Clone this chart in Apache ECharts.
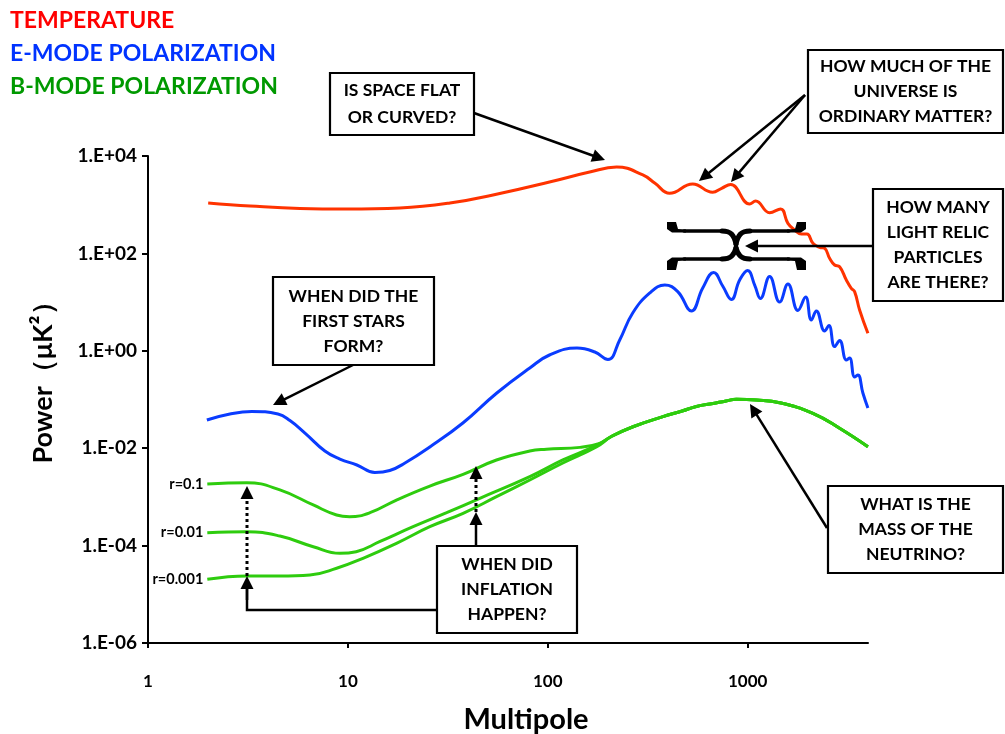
<!DOCTYPE html>
<html><head><meta charset="utf-8">
<script src="https://cdn.jsdelivr.net/npm/echarts@6/dist/echarts.min.js"></script>
<style>html,body{margin:0;padding:0;background:#fff}#c{width:1005px;height:734px}</style>
</head><body><div id="c"></div>
<script>
// ---- data (multipole ell, power in uK^2) ----
const TT_ELL = [2.0, 3.24, 5.75, 9.9, 18.2, 32.4, 57.5, 102, 162, 221, 299, 344, 407, 531, 668, 741, 822, 1023, 1096, 1288, 1462, 1590, 1718, 1856, 1980, 2121, 2291, 2427, 2570, 2723, 2884, 3116, 3300, 3428, 3631, 3996];
const TT_POW = [1084, 940, 836, 816, 855, 1084, 1698, 2924, 4690, 5943, 4074, 2750, 1714, 2661, 1798, 2173, 2600, 1033, 1191, 685, 816, 415, 302, 250, 250, 161, 133, 127, 79.4, 57.8, 53.3, 28.4, 19.2, 16.4, 6.9, 2.29];

const EE_ELL = [1.97, 2.57, 3.31, 4.47, 5.13, 6.10, 7.67, 9.12, 11.09, 13.65, 16.2, 19.3, 25.7, 37.6, 55.6, 81.3, 102, 140, 172, 200, 229, 266, 324, 385, 447, 523, 596, 676, 750, 829, 912, 1000, 1084, 1158, 1288, 1445, 1590, 1785, 1950, 2082, 2206, 2427, 2550, 2723, 2884, 3116, 3236, 3428, 3561, 3771, 3996];
const EE_POW = [0.0379, 0.0504, 0.0567, 0.0504, 0.0370, 0.0205, 0.00877, 0.0060, 0.00452, 0.00317, 0.00348, 0.00497, 0.0106, 0.0329, 0.136, 0.444, 0.820, 1.14, 0.944, 0.663, 1.67, 5.97, 15.4, 22.4, 16.4, 6.56, 19.5, 40.6, 21.4, 11.3, 28.4, 44.6, 22.4, 11.9, 33.6, 10.0, 23.5, 6.73, 12.7, 4.29, 6.56, 2.55, 3.31, 1.22, 1.63, 0.647, 0.711, 0.290, 0.318, 0.136, 0.0668];

// B-mode: low-ell part differs with r, lensing tail shared
const BB_R01_ELL = [1.98, 3.12, 4.57, 6.71, 8.78, 10.2, 12.9, 17.5, 25.7, 37.7, 55.4, 81.3, 98.5, 145, 180];
const BB_R01_POW = [0.00184, 0.00196, 0.00139, 0.000682, 0.000425, 0.000392, 0.000474, 0.000863, 0.00167, 0.00291, 0.00573, 0.00877, 0.00949, 0.0104, 0.0124];
const BB_R001_ELL = [1.98, 3.12, 4.57, 6.71, 9.12, 11.0, 14.4, 21.2, 31.2, 45.7, 81.3, 119, 175];
const BB_R001_POW = [0.000184, 0.000193, 0.000157, 0.0000949, 0.0000695, 0.000075, 0.00012, 0.000244, 0.000474, 0.000935, 0.0026, 0.00573, 0.0114];
const BB_R0001_ELL = [1.98, 3.12, 4.57, 6.46, 8.78, 11.9, 17.5, 25.7, 37.7, 55.4, 81.3, 119, 175];
const BB_R0001_POW = [0.0000203, 0.0000238, 0.0000238, 0.0000249, 0.0000342, 0.0000548, 0.000111, 0.000244, 0.00046, 0.00101, 0.00222, 0.00497, 0.0106];
const BB_TAIL_ELL = [210, 267, 377, 470, 554, 671, 780, 878, 1105, 1445, 2121, 2884, 3996];
const BB_TAIL_POW = [0.0178, 0.0276, 0.0444, 0.0580, 0.0720, 0.0830, 0.0935, 0.101, 0.0977, 0.0859, 0.0521, 0.0256, 0.0107];

const R_LABELS = ['r=0.1', 'r=0.01', 'r=0.001'];
const X_TICKS = [1, 10, 100, 1000];
const X_MAX = 4000;
const Y_MIN_EXP = -6, Y_MAX_EXP = 4, Y_STEP_EXP = 2;

// ---- build ----
const FONT = 'Lato, "Open Sans", sans-serif';
const toXY = (ell, pow) => ell.map((l, i) => [Math.log10(l), Math.log10(pow[i])]);
function withLabel(pts, text) {
  return pts.map((p, i) => i === 0 ? {value: p, label: {show: true, position: 'left', distance: 4, formatter: text,
      fontFamily: FONT, fontWeight: 'bold', fontSize: 14.5, color: '#000'}} : {value: p});
}
const chart = echarts.init(document.getElementById('c'), null, {renderer: 'canvas'});

const lineBase = {type: 'line', smooth: 0.45, showSymbol: true, symbol: 'circle', symbolSize: 0, animation: false,
  label: {show: false}, emphasis: {disabled: true}, z: 3};

const series = [
  Object.assign({}, lineBase, {name: 'TEMPERATURE', data: toXY(TT_ELL, TT_POW), lineStyle: {color: '#FF3300', width: 3}, itemStyle: {color: '#FF3300'}}),
  Object.assign({}, lineBase, {name: 'E-MODE POLARIZATION', data: toXY(EE_ELL, EE_POW), lineStyle: {color: '#0A3CFF', width: 3}, itemStyle: {color: '#0A3CFF'}}),
  Object.assign({}, lineBase, {name: 'B-MODE r=0.1', data: withLabel(toXY(BB_R01_ELL.concat(BB_TAIL_ELL), BB_R01_POW.concat(BB_TAIL_POW)), R_LABELS[0]), lineStyle: {color: '#2ECC0E', width: 3}, itemStyle: {color: '#2ECC0E'}}),
  Object.assign({}, lineBase, {name: 'B-MODE r=0.01', data: withLabel(toXY(BB_R001_ELL.concat(BB_TAIL_ELL), BB_R001_POW.concat(BB_TAIL_POW)), R_LABELS[1]), lineStyle: {color: '#2ECC0E', width: 3}, itemStyle: {color: '#2ECC0E'}}),
  Object.assign({}, lineBase, {name: 'B-MODE r=0.001', data: withLabel(toXY(BB_R0001_ELL.concat(BB_TAIL_ELL), BB_R0001_POW.concat(BB_TAIL_POW)), R_LABELS[2]), lineStyle: {color: '#2ECC0E', width: 3}, itemStyle: {color: '#2ECC0E'}})
];

// ---- annotation helpers ----
function arrow(x1, y1, x2, y2, o) {
  o = o || {};
  const dx = x2 - x1, dy = y2 - y1, len = Math.hypot(dx, dy), ux = dx / len, uy = dy / len;
  const hl = o.hl || 13, hw = o.hw || 6.5;
  const bx = x2 - ux * hl, by = y2 - uy * hl;
  return [
    {type: 'line', z: 100, shape: {x1: x1, y1: y1, x2: bx + ux * 2, y2: by + uy * 2},
      style: {stroke: '#000', lineWidth: o.w || 2.5, lineDash: o.dash || null}},
    {type: 'polygon', z: 100, shape: {points: [[x2, y2], [bx - uy * hw, by + ux * hw], [bx + uy * hw, by - ux * hw]]}, style: {fill: '#000'}}
  ];
}
function box(x, y, w, h, text, lh) {
  return [
    {type: 'rect', z: 100, shape: {x: x, y: y, width: w, height: h}, style: {fill: '#fff', stroke: '#000', lineWidth: 2.2}},
    {type: 'text', z: 101, x: x + w / 2, y: y + h / 2, style: {text: text, fill: '#000', font: 'bold 17.5px ' + FONT,
      align: 'center', verticalAlign: 'middle', lineHeight: lh || 25}}
  ];
}
function txt(x, y, text, color, size, extra) {
  return Object.assign({type: 'text', z: 101, x: x, y: y, style: {text: text, fill: color, font: 'bold ' + size + 'px ' + FONT,
    align: 'left', verticalAlign: 'middle'}}, extra || {});
}
const BRACE_STYLE = {stroke: '#000', lineWidth: 3.5, fill: null, lineCap: 'round'};
function bez(x1, y1, c1x, c1y, c2x, c2y, x2, y2, w) {
  return {type: 'bezierCurve', z: 100, shape: {x1: x1, y1: y1, cpx1: c1x, cpy1: c1y, cpx2: c2x, cpy2: c2y, x2: x2, y2: y2},
    style: Object.assign({}, BRACE_STYLE, w ? {lineWidth: w} : {})};
}
function seg(x1, y1, x2, y2) {
  return {type: 'line', z: 100, shape: {x1: x1, y1: y1, x2: x2, y2: y2}, style: BRACE_STYLE};
}
// horizontal curly brace: ends at yEnd, body at yBody, tip at yTip
function brace(xl, xr, xc, yEnd, yBody, yTip) {
  const s = yBody > yEnd ? 1 : -1;
  // chunky end blob running into the thin body
  const hook = (x0, dir) => ({type: 'polygon', z: 100, shape: {points: [
    [x0 - dir * 3, yEnd], [x0 + dir * 6, yEnd], [x0 + dir * 8, yBody - s * 2],
    [x0 + dir * 16, yBody - s * 1.6], [x0 + dir * 16, yBody + s * 1.6], [x0 + dir * 2, yBody + s * 1.6], [x0 - dir * 3, yBody - s * 2]]},
    style: {fill: '#000'}});
  return [
    hook(xl, 1), hook(xr, -1),
    seg(xl + 14, yBody, xc - 14, yBody),
    bez(xc - 14, yBody, xc - 5, yBody, xc - 2, yBody + s * 4, xc, yTip, 5),
    bez(xc, yTip, xc + 2, yBody + s * 4, xc + 5, yBody, xc + 14, yBody, 5),
    seg(xc + 14, yBody, xr - 14, yBody)
  ];
}

const DOT = [3, 3];
const graphics = [].concat(
  txt(10, 21, 'TEMPERATURE', '#FF0000', 23),
  txt(10, 54, 'E-MODE POLARIZATION', '#0033FF', 23),
  txt(10, 87, 'B-MODE POLARIZATION', '#009900', 23),
  // axis titles
  {type: 'text', z: 101, x: 43, y: 376, rotation: Math.PI / 2, style: {text: 'Power（μK²）', fill: '#000', font: 'bold 27px ' + FONT, align: 'center', verticalAlign: 'middle'}},
  {type: 'text', z: 101, x: 526, y: 720, style: {text: 'Multipole', fill: '#000', font: 'bold 29px ' + FONT, align: 'center', verticalAlign: 'middle'}},
  // arrows
  arrow(474, 113, 605, 160),
  arrow(805, 95, 699, 181),
  arrow(805, 95, 731, 182),
  arrow(873, 246, 745, 246),
  arrow(353, 365, 273, 405),
  arrow(476, 546, 476, 512),
  arrow(476, 512, 476, 466, {dash: DOT, w: 3}),
  {type: 'polyline', z: 100, shape: {points: [[437, 610], [247, 610], [247, 588]]}, style: {stroke: '#000', lineWidth: 2.5, fill: null}},
  arrow(247, 600, 247, 576),
  arrow(247, 576, 247, 486, {dash: DOT, w: 3}),
  arrow(827, 528, 750, 404),
  // curly braces
  brace(670, 803, 736, 222, 231, 244),
  brace(670, 803, 736, 270, 259, 248),
  // callout boxes
  box(330, 73, 144, 62, 'IS SPACE FLAT\nOR CURVED?', 27),
  box(808, 50, 195, 83, 'HOW MUCH OF THE\nUNIVERSE IS\nORDINARY MATTER?'),
  box(873, 189, 130, 112, 'HOW MANY\nLIGHT RELIC\nPARTICLES\nARE THERE?'),
  box(273, 277, 161, 88, 'WHEN DID THE\nFIRST STARS\nFORM?'),
  box(437, 546, 140, 87, 'WHEN DID\nINFLATION\nHAPPEN?'),
  box(828, 486, 175, 87, 'WHAT IS THE\nMASS OF THE\nNEUTRINO?')
);

const xTickVals = X_TICKS.map(v => Math.log10(v));
const option = {
  animation: false,
  backgroundColor: '#fff',
  grid: {left: 148, right: 137, top: 156, bottom: 91, containLabel: false},
  xAxis: {
    type: 'value', min: 0, max: Math.log10(X_MAX), interval: 1,
    axisLine: {onZero: false, lineStyle: {color: '#000', width: 2}},
    axisTick: {show: true, length: 5, inside: false, lineStyle: {color: '#000', width: 2}, customValues: xTickVals},
    axisLabel: {margin: 30, color: '#000', fontFamily: FONT, fontWeight: 'bold', fontSize: 17,
      customValues: xTickVals, formatter: v => String(Math.round(Math.pow(10, v)))},
    splitLine: {show: false}
  },
  yAxis: {
    type: 'value', min: Y_MIN_EXP, max: Y_MAX_EXP, interval: Y_STEP_EXP,
    axisLine: {show: true, onZero: false, lineStyle: {color: '#000', width: 2}},
    axisTick: {show: true, length: 6, inside: false, lineStyle: {color: '#000', width: 2}},
    axisLabel: {margin: 11, color: '#000', fontFamily: FONT, fontWeight: 'bold', fontSize: 19,
      formatter: v => { const e = Math.round(v); return '1.E' + (e < 0 ? '-' : '+') + String(Math.abs(e)).padStart(2, '0'); }},
    splitLine: {show: false}
  },
  series: series,
  graphic: {elements: graphics}
};
chart.setOption(option);
</script>
</body></html>
